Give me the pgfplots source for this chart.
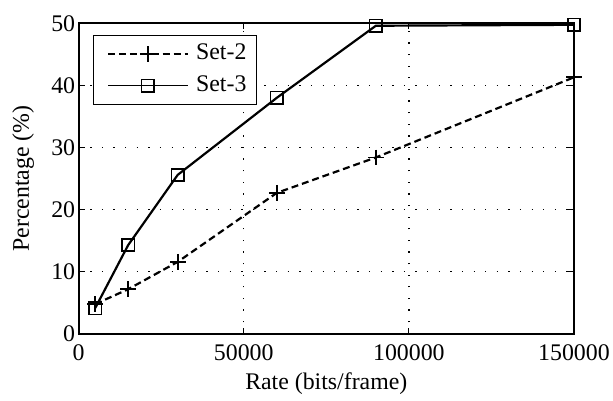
\documentclass[border={9pt 3pt 0pt 12pt}]{standalone}
\usepackage{pgfplots}
\pgfplotsset{compat=1.18}
\usepackage{fontspec}
\setmainfont{Liberation Serif}
\begin{document}
\begin{tikzpicture}
\begin{axis}[
  scale only axis,
  width=499pt, height=313pt,
  xmin=0, xmax=150000, ymin=0, ymax=50,
  xtick={0,50000,100000,150000},
  xticklabels={\textrm{0},\textrm{50000},\textrm{100000},\textrm{150000}},
  ytick={0,10,20,30,40,50},
  yticklabels={\textrm{0},\textrm{10},\textrm{20},\textrm{30},\textrm{40},\textrm{50}},
  scaled x ticks=false,
  tick align=inside,
  major tick length=6pt,
  tick style={line width=1pt, black},
  axis line style={line width=1.8pt},
  grid=major,
  major grid style={line width=1.3pt, black, dash pattern=on 1.3pt off 10.4pt},
  xlabel={Rate (bits/frame)},
  ylabel={Percentage (\%)},
  every axis x label/.style={at={(axis description cs:0.5,-0.16)}, anchor=center},
  every axis y label/.style={at={(axis description cs:-0.1122,0.5)}, anchor=center, rotate=90},
  xticklabel style={yshift=-7pt},
  every tick label/.append style={font=\fontsize{24pt}{27pt}\selectfont},
  label style={font=\fontsize{24pt}{27pt}\selectfont},
  legend style={at={(0.028,0.962)}, anchor=north west, draw=black, line width=1.2pt,
    font=\fontsize{24pt}{27pt}\selectfont, row sep=9pt, column sep=8pt,
    inner xsep=10pt, inner ysep=7pt,
    nodes={inner sep=0pt, text height=17pt, text depth=6pt}},
  legend cell align=left,
  legend image code/.code={
    \path (0pt,0pt);
    \draw[mark repeat=2,mark phase=2,#1, line width=1.4pt] plot coordinates {(4pt,0pt) (44pt,0pt) (84pt,0pt)};
  },
]
\addplot[black, line width=2.2pt, dash pattern=on 7pt off 4pt, mark=+, mark size=8pt, mark options={solid, line width=1.8pt}]
coordinates {(5000,4.8) (15000,7.2) (30000,11.6) (60000,22.7) (90000,28.4) (150000,41.3)};
\addlegendentry{Set-2}
\addplot[black, line width=2.2pt, mark=square, mark size=6.3pt, mark options={solid, line width=1.8pt}]
coordinates {(5000,4.15) (15000,14.3) (30000,25.6) (60000,38) (90000,49.6) (150000,49.75)};
\addlegendentry{Set-3}
\end{axis}
\end{tikzpicture}
\end{document}
